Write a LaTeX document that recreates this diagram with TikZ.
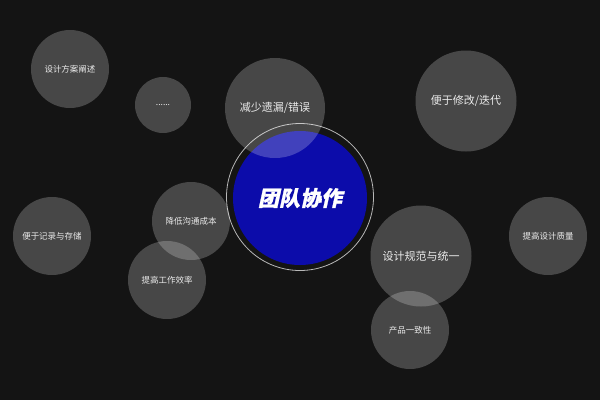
\documentclass[tikz,border=0pt]{standalone}
\usepackage{fontspec}
\newfontfamily\cjk{Noto Sans CJK SC}
\newfontfamily\titlefont[FakeSlant=0.22,FakeBold=1.2]{Noto Sans CJK SC}
\definecolor{bg}{HTML}{141414}
\definecolor{coreblue}{HTML}{0C0CAA}
\definecolor{ringgray}{HTML}{B8B8B8}
\tikzset{
  bubble/.style={circle, fill=white, fill opacity=0.22, text opacity=1, text=white!92!black, inner sep=0pt, font=\cjk\fontsize{8.5}{10}\selectfont},
  bigbubble/.style={bubble, font=\cjk\fontsize{11}{13}\selectfont},
}
\begin{document}
\begin{tikzpicture}[x=1pt,y=-1pt]
\fill[bg] (0,0) rectangle (600,400);
\useasboundingbox (0,0) rectangle (600,400);
% core
\node[circle, draw=ringgray, line width=0.8pt, minimum size=147pt, inner sep=0pt] (ring) at (300,197) {};
\node[circle, fill=coreblue, minimum size=134pt, inner sep=0pt, text=white, font=\titlefont\bfseries\fontsize{21}{24}\selectfont] (core) at (300,198) {团队协作};
% bubbles
\node[bubble, minimum size=78pt] (b1) at (70,69) {设计方案阐述};
\node[bubble, minimum size=56pt] (b2) at (163,105) {\raisebox{-1pt}{......}};
\node[bigbubble, minimum size=100pt] (b3) at (275,108) {减少遗漏/错误};
\node[bigbubble, minimum size=101pt] (b4) at (466,101) {便于修改/迭代};
\node[bubble, minimum size=78pt] (b5) at (52,236) {便于记录与存储};
\node[bubble, minimum size=78pt] (b6) at (191,221) {降低沟通成本};
\node[bubble, minimum size=78pt] (b7) at (167,280) {提高工作效率};
\node[bigbubble, minimum size=101pt] (b8) at (421,256) {设计规范与统一};
\node[bubble, minimum size=78pt] (b9) at (410,330) {产品一致性};
\node[bubble, minimum size=78pt] (b10) at (548,236) {提高设计质量};
\end{tikzpicture}
\end{document}
